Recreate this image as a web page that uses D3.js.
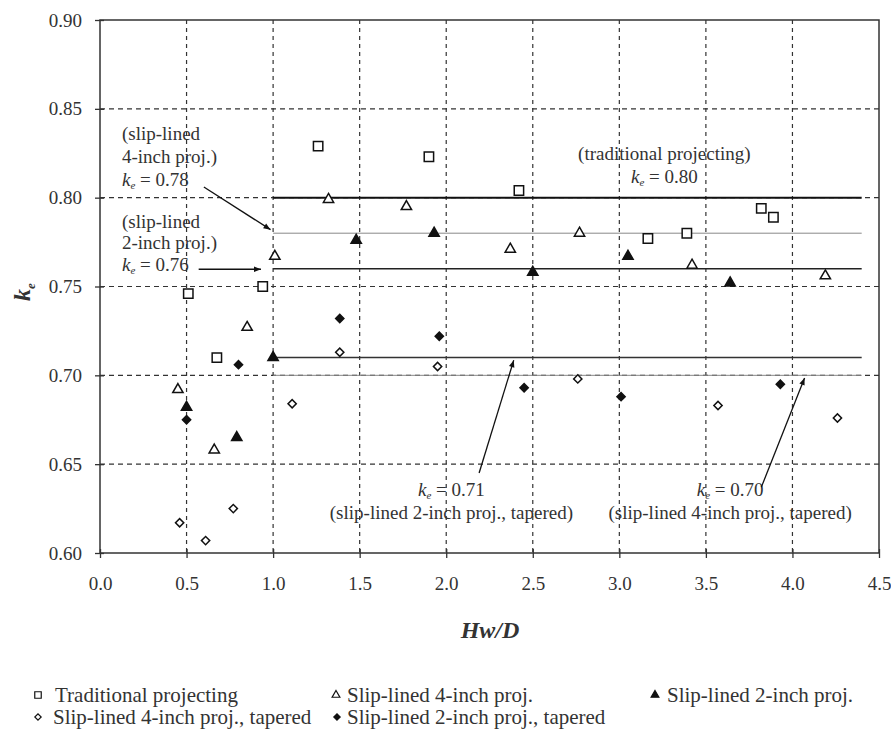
<!DOCTYPE html>
<html>
<head>
<meta charset="utf-8">
<script src="https://cdn.jsdelivr.net/npm/d3@7"></script>
<style>
  body { margin: 0; background: #fff; }
  text { font-family: "Liberation Serif", "DejaVu Serif", serif; fill: #333; }
</style>
</head>
<body>
<svg id="chart" width="891" height="736"></svg>
<script>
// series data (Hw/D, ke)
var tradX   = [0.51, 0.94, 0.675, 1.26, 1.90, 2.42, 3.165, 3.39, 3.82, 3.89];
var tradY   = [0.746, 0.750, 0.710, 0.829, 0.823, 0.804, 0.777, 0.780, 0.794, 0.789];
var sl4X    = [0.45, 0.66, 0.85, 1.01, 1.32, 1.77, 2.37, 2.77, 3.42, 4.19];
var sl4Y    = [0.692, 0.658, 0.727, 0.767, 0.799, 0.795, 0.771, 0.780, 0.762, 0.756];
var sl2X    = [0.50, 0.79, 1.00, 1.48, 1.93, 2.50, 3.05, 3.64];
var sl2Y    = [0.682, 0.665, 0.710, 0.776, 0.780, 0.758, 0.767, 0.752];
var sl4tX   = [0.46, 0.61, 0.77, 1.11, 1.385, 1.95, 2.76, 3.57, 4.26];
var sl4tY   = [0.617, 0.607, 0.625, 0.684, 0.713, 0.705, 0.698, 0.683, 0.676];
var sl2tX   = [0.50, 0.80, 1.385, 1.96, 2.45, 3.01, 3.93];
var sl2tY   = [0.675, 0.706, 0.732, 0.722, 0.693, 0.688, 0.695];

var refValues = [0.80, 0.78, 0.76, 0.71, 0.70];
var refStart = 1.0, refEnd = 4.4;

var xTicks = [0, 0.5, 1, 1.5, 2, 2.5, 3, 3.5, 4, 4.5];
var yTicks = [0.60, 0.65, 0.70, 0.75, 0.80, 0.85, 0.90];

var seriesNames = ["Traditional projecting", "Slip-lined 4-inch proj.", "Slip-lined 2-inch proj.",
                   "Slip-lined 4-inch proj., tapered", "Slip-lined 2-inch proj., tapered"];

var svg = d3.select("#chart");
var margin = {left: 100, right: 12, top: 20, bottom: 183};
var W = 891 - margin.left - margin.right, H = 736 - margin.top - margin.bottom;
var g = svg.append("g").attr("transform", "translate(" + margin.left + "," + margin.top + ")");

var x = d3.scaleLinear().domain([0, 4.5]).range([0, W]);
var y = d3.scaleLinear().domain([0.60, 0.90]).range([H, 0]);

// dashed grid
g.selectAll(".vg").data(xTicks.slice(1, -1)).enter().append("line")
  .attr("x1", d => x(d)).attr("x2", d => x(d)).attr("y1", 0).attr("y2", H)
  .attr("stroke", "#333").attr("stroke-width", 1.2).attr("stroke-dasharray", "4,4");
g.selectAll(".hg").data(yTicks.slice(1, -1)).enter().append("line")
  .attr("x1", 0).attr("x2", W).attr("y1", d => y(d)).attr("y2", d => y(d))
  .attr("stroke", "#333").attr("stroke-width", 1.2).attr("stroke-dasharray", "5,4");

// reference lines
var refStyle = {0.80: ["#111", 2], 0.78: ["#888", 1], 0.76: ["#222", 1.6], 0.71: ["#333", 1.4], 0.70: ["#888", 1]};
g.selectAll(".ref").data(refValues).enter().append("line")
  .attr("x1", x(refStart)).attr("x2", x(refEnd)).attr("y1", d => y(d)).attr("y2", d => y(d))
  .attr("stroke", d => refStyle[d][0]).attr("stroke-width", d => refStyle[d][1]);

// frame
g.append("rect").attr("width", W).attr("height", H).attr("fill", "none").attr("stroke", "#333").attr("stroke-width", 1.5);

// axes
var xAxis = g.append("g").attr("transform", "translate(0," + H + ")")
  .call(d3.axisBottom(x).tickValues(xTicks).tickFormat(d3.format(".1f")).tickSizeInner(5).tickSizeOuter(0));
var yAxis = g.append("g")
  .call(d3.axisLeft(y).tickValues(yTicks).tickFormat(d3.format(".2f")).tickSizeInner(5).tickSizeOuter(0));
[xAxis, yAxis].forEach(a => {
  a.attr("font-family", null);
  a.select(".domain").remove();
  a.selectAll("line").attr("stroke", "#333").attr("stroke-width", 1.3);
  a.selectAll("text").style("font-size", "19px").attr("fill", "#444").style("font-family", "Liberation Serif");
});
// inner part of ticks
xAxis.selectAll(".tick").append("line").attr("y1", 0).attr("y2", -4).attr("stroke", "#333").attr("stroke-width", 1.3);
yAxis.selectAll(".tick").append("line").attr("x1", 0).attr("x2", 4).attr("stroke", "#333").attr("stroke-width", 1.3);
xAxis.selectAll("text").attr("y", 24);
yAxis.selectAll("text").attr("x", -18);

// axis titles
svg.append("text").attr("x", 490).attr("y", 638).attr("text-anchor", "middle")
  .style("font-size", "24px").style("font-weight", "bold").style("font-style", "italic").attr("fill", "#222").text("Hw/D");
var yl = svg.append("text").attr("transform", "translate(30,292) rotate(-90)").attr("text-anchor", "middle")
  .style("font-size", "24px").style("font-weight", "bold").style("font-style", "italic").attr("fill", "#222");
yl.append("tspan").text("k");
yl.append("tspan").attr("dy", 5).style("font-size", "13px").text("e");

// markers (diamond = rotated square)
var sq = d3.symbol().type(d3.symbolSquare).size(88);
var tri = d3.symbol().type(d3.symbolTriangle).size(46);
var dia = d3.symbol().type(d3.symbolSquare).size(34);
var series = [
  {xs: tradX, ys: tradY, sym: sq, fill: "#fff", rot: 0},
  {xs: sl4X, ys: sl4Y, sym: tri, fill: "#fff", rot: 0},
  {xs: sl2X, ys: sl2Y, sym: tri, fill: "#111", rot: 0},
  {xs: sl4tX, ys: sl4tY, sym: dia, fill: "#fff", rot: 45},
  {xs: sl2tX, ys: sl2tY, sym: dia, fill: "#111", rot: 45}
];
series.forEach(s => {
  g.selectAll(null).data(s.xs.map((v, i) => [v, s.ys[i]])).enter().append("path")
    .attr("d", s.sym).attr("transform", d => "translate(" + x(d[0]) + "," + y(d[1]) + ") rotate(" + s.rot + ")")
    .attr("fill", s.fill).attr("stroke", "#111").attr("stroke-width", 1.5);
});

// annotations
svg.append("defs").append("marker").attr("id", "ah").attr("viewBox", "0 0 10 10")
  .attr("refX", 10).attr("refY", 5).attr("markerWidth", 10).attr("markerHeight", 7).attr("orient", "auto")
  .attr("markerUnits", "userSpaceOnUse")
  .append("path").attr("d", "M0,1 L10,5 L0,9 Z").attr("fill", "#111");

function label(px, py, lines, anchor, gap) {
  lines.forEach((ln, i) => {
    var t = g.append("text").attr("x", px).attr("y", py + i * gap).attr("text-anchor", anchor || "start").style("font-size", "19px");
    if (ln.ke) {
      t.append("tspan").style("font-style", "italic").text("k");
      t.append("tspan").attr("dy", 3).style("font-size", "11px").style("font-style", "italic").text("e");
      t.append("tspan").attr("dy", -3).text(" = " + ln.ke);
    } else t.text(ln);
  });
}
function arrow(x1, y1, x2, y2) {
  g.append("line").attr("x1", x(x1)).attr("y1", y(y1)).attr("x2", x(x2)).attr("y2", y(y2))
    .attr("stroke", "#111").attr("stroke-width", 1.3).attr("marker-end", "url(#ah)");
}
label(x(0.127), y(0.8325), ["(slip-lined", "4-inch proj.)", {ke: "0.78"}], "start", 23);
arrow(0.60, 0.806, 0.985, 0.782);
label(x(0.127), y(0.783), ["(slip-lined", "2-inch proj.)", {ke: "0.76"}], "start", 21.5);
arrow(0.57, 0.7597, 0.93, 0.7597);
label(x(3.26), y(0.821), ["(traditional projecting)", {ke: "0.80"}], "middle", 23);
label(x(2.03), y(0.6322), [{ke: "0.71"}, "(slip-lined 2-inch proj., tapered)"], "middle", 23);
arrow(2.19, 0.645, 2.39, 0.7085);
label(x(3.64), y(0.6322), [{ke: "0.70"}, "(slip-lined 4-inch proj., tapered)"], "middle", 23);
arrow(3.82, 0.637, 4.07, 0.6985);

// legend: [marker x, text x, baseline]
var legPos = [[38, 55, 702], [336, 347, 702], [655, 667, 702], [38, 53, 724], [337, 347, 724]];
var legSym = [d3.symbol().type(d3.symbolSquare).size(42), d3.symbol().type(d3.symbolTriangle).size(26),
              d3.symbol().type(d3.symbolTriangle).size(26), d3.symbol().type(d3.symbolSquare).size(20),
              d3.symbol().type(d3.symbolSquare).size(20)];
var leg = svg.selectAll(".leg").data(seriesNames).enter().append("g");
leg.append("path").attr("d", (d, i) => legSym[i]())
  .attr("transform", (d, i) => "translate(" + legPos[i][0] + "," + (legPos[i][2] - 7) + ") rotate(" + series[i].rot + ")")
  .attr("fill", (d, i) => series[i].fill).attr("stroke", "#111").attr("stroke-width", 1.2);
leg.append("text").attr("x", (d, i) => legPos[i][1]).attr("y", (d, i) => legPos[i][2])
  .style("font-size", "21px").text(d => d);
</script>
</body>
</html>
